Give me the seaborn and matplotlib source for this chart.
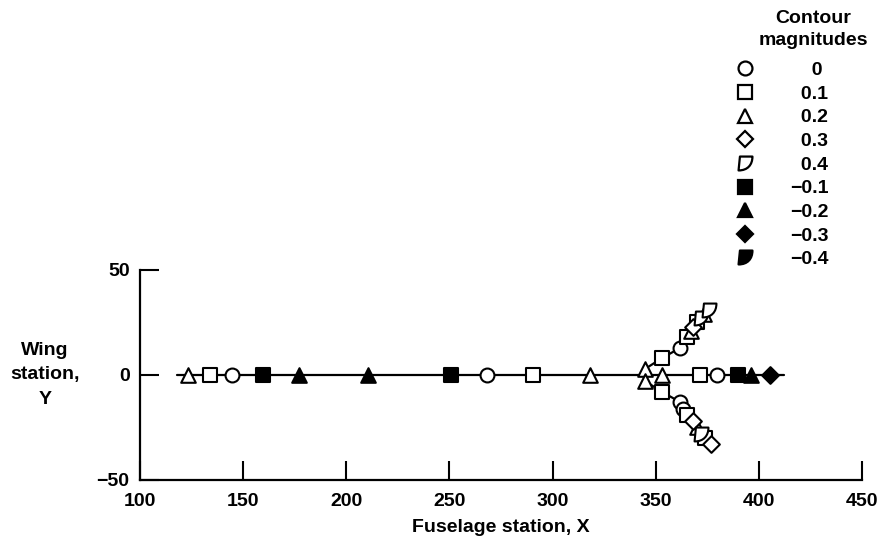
import numpy as np
import pandas as pd
import matplotlib
matplotlib.use("Agg")
import matplotlib.pyplot as plt
from matplotlib.path import Path
from matplotlib.lines import Line2D
import seaborn as sns

# ---------------- data ----------------
center_x = [118, 412]
center_y = [0, 0]
upper_x = [345, 353, 362, 365, 367, 368, 370, 372, 373.5, 376]
upper_y = [3, 8, 13, 18, 21, 23, 25, 27, 29, 31]
lower_x = [345, 353, 362, 363, 365, 368, 370, 372, 374, 377]
lower_y = [-3, -8, -13, -16, -19, -22, -25, -28, -30, -33]

mag_labels = ["0", "0.1", "0.2", "0.3", "0.4", "\u22120.1", "\u22120.2", "\u22120.3", "\u22120.4"]
pts_x = {
    "0":    [144.5, 268, 379.5, 362, 362, 363],
    "0.1":  [134, 290.5, 371.7, 353, 353, 365, 370, 365, 374],
    "0.2":  [123.3, 318, 345, 345, 353, 367, 373.5, 370],
    "0.3":  [368, 368, 377],
    "0.4":  [372, 376, 372],
    "\u22120.1": [159.8, 250.7, 390],
    "\u22120.2": [177.2, 210.5, 396.4],
    "\u22120.3": [405.4],
    "\u22120.4": [],
}
pts_y = {
    "0":    [0, 0, 0, 13, -13, -16],
    "0.1":  [0, 0, 0, 8, -8, 18, 25, -19, -30],
    "0.2":  [0, 0, 3, -3, 0, 21, 29, -25],
    "0.3":  [23, -22, -33],
    "0.4":  [27, 31, -28],
    "\u22120.1": [0, 0, 0],
    "\u22120.2": [0, 0, 0],
    "\u22120.3": [0],
    "\u22120.4": [],
}
xticks = [100, 150, 200, 250, 300, 350, 400, 450]
yticks = [-50, 0, 50]

# ---------------- style ----------------
sns.set_theme(style="white")
plt.rcParams["font.family"] = ["Liberation Sans", "DejaVu Sans"]
plt.rcParams["font.weight"] = "bold"
plt.rcParams["text.color"] = "black"
plt.rcParams["axes.labelcolor"] = "black"
plt.rcParams["xtick.color"] = "black"
plt.rcParams["ytick.color"] = "black"
FS = 14

# custom "D"-like marker for +/-0.4
verts = [(-0.8, 1.0), (1.0, 1.0), (1.0, -0.2), (0.3, -1.0), (-1.0, -1.0), (-0.8, 1.0)]
codes = [Path.MOVETO, Path.LINETO, Path.CURVE4, Path.CURVE4, Path.CURVE4, Path.CLOSEPOLY]
d_marker = Path(verts, codes)

marker_map = {
    "0": ("o", False), "0.1": ("s", False), "0.2": ("^", False), "0.3": ("D", False),
    "0.4": (d_marker, False),
    "\u22120.1": ("s", True), "\u22120.2": ("^", True), "\u22120.3": ("D", True),
    "\u22120.4": (d_marker, True),
}
size_map = {"o": 10, "s": 9.5, "^": 10.5, "D": 8.5}

fig = plt.figure(figsize=(8.89, 5.47), dpi=100)
ax = fig.add_axes([140 / 889, 1 - 480 / 547, (862 - 140) / 889, (480 - 270) / 547])

lw = 1.6
for xs, ys in [(center_x, center_y), (upper_x, upper_y), (lower_x, lower_y)]:
    df = pd.DataFrame({"x": xs, "y": ys})
    sns.lineplot(data=df, x="x", y="y", sort=False, estimator=None, color="black",
                 linewidth=lw, ax=ax, zorder=2)

handles = []
for lab in mag_labels:
    m, filled = marker_map[lab]
    ms = size_map.get(m, 10) if isinstance(m, str) else 10
    fc = "black" if filled else "white"
    if pts_x[lab]:
        df = pd.DataFrame({"x": pts_x[lab], "y": pts_y[lab]})
        sns.scatterplot(data=df, x="x", y="y", marker=m, s=ms ** 2, facecolor=fc,
                        edgecolor="black", linewidth=1.5, ax=ax, zorder=3)
    handles.append(Line2D([], [], linestyle="none", marker=m, markersize=ms * 1.0,
                          markerfacecolor=fc, markeredgecolor="black", markeredgewidth=1.6))

ax.set_xlim(100, 450)
ax.set_ylim(-50, 50)
ax.set_xticks(xticks)
ax.set_yticks(yticks)
ax.set_yticklabels([("\u221250" if v < 0 else str(v)) for v in yticks])
ax.tick_params(direction="in", length=14, width=1.5, labelsize=FS, colors="black",
               left=True, bottom=True)
ax.tick_params(axis="x", pad=9)
ax.tick_params(axis="y", pad=7.5)
for s in ["top", "right"]:
    ax.spines[s].set_visible(False)
for s in ["left", "bottom"]:
    ax.spines[s].set_linewidth(1.6)
    ax.spines[s].set_color("black")
ax.set_xlabel("Fuselage station, X", fontsize=FS, fontweight="bold", color="black")
ax.xaxis.label.set_va("center")
ax.xaxis.set_label_coords(0.5, -47 / 210)
ax.set_ylabel("Wing\nstation,\nY", fontsize=FS, fontweight="bold", rotation=0,
              ha="center", va="center", linespacing=1.6, color="black")
ax.yaxis.set_label_coords(-95 / 722, 0.5)

# legend title
fig.text(813 / 889, 1 - 29.5 / 547, "Contour\nmagnitudes", ha="center", va="center",
         fontsize=FS, fontweight="bold", linespacing=1.37, multialignment="center",
         color="black")

fs = "\u2007"
leg_labels = [fs + fs + "0", fs + "0.1", fs + "0.2", fs + "0.3", fs + "0.4",
              "\u22120.1", "\u22120.2", "\u22120.3", "\u22120.4"]
leg = fig.legend(handles, leg_labels, frameon=False,
                 loc="upper left", bbox_to_anchor=(735.3 / 889, 1 - 61.5 / 547),
                 fontsize=FS, handletextpad=1.82, borderaxespad=0, borderpad=0,
                 labelspacing=0.31, handlelength=1.0, labelcolor="black")

fig.savefig("out.png", dpi=100)
